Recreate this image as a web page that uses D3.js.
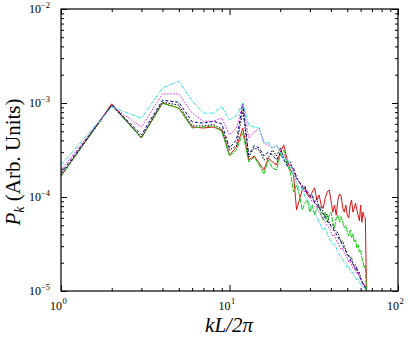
<!DOCTYPE html>
<html>
<head>
<meta charset="utf-8">
<script src="https://cdn.jsdelivr.net/npm/d3@7"></script>
<style>
  html, body { margin: 0; padding: 0; background: #fff; }
  svg { display: block; }
</style>
</head>
<body>
<div id="chart"></div>
<script>
// wavenumber index kL/2pi
const kValues = d3.range(1, 66);

const redP = [1.67e-4, 9.8e-4, 4.24e-4, 1.0e-3, 8.85e-4, 5.55e-4, 5.42e-4, 5.55e-4, 5.15e-4, 2.8e-4,
  3.4e-4, 5.4e-4, 2.47e-4, 2.73e-4, 2.3e-4, 1.94e-4, 2.6e-4, 2.36e-4, 2.19e-4, 3.0e-4,
  3.58e-4, 2.47e-4, 1.94e-4, 1.72e-4, 7.3e-5, 9.3e-5, 1.19e-4, 1.25e-4, 1.05e-4, 9.8e-5,
  1.13e-4, 1.25e-4, 9.3e-5, 1.05e-4, 8.2e-5, 7.6e-5, 9.8e-5, 1.13e-4, 1.19e-4, 9.3e-5,
  6.9e-5, 8.2e-5, 6.4e-5, 9.3e-5, 1.08e-4, 1.02e-4, 7.6e-5, 6.9e-5, 8.2e-5, 6.4e-5,
  6.0e-5, 8.2e-5, 9.3e-5, 6.9e-5, 7.6e-5, 8.6e-5, 7.3e-5, 6.4e-5, 5.6e-5, 8.2e-5,
  5.4e-5, 6.9e-5, 6.2e-5, 6.0e-5, 1.0e-5];

const greenP = [1.67e-4, 9.5e-4, 4.24e-4, 9.9e-4, 8.85e-4, 5.42e-4, 5.55e-4, 5.7e-4, 5.0e-4, 2.73e-4,
  3.16e-4, 4.8e-4, 2.36e-4, 2.66e-4, 2.19e-4, 1.76e-4, 2.47e-4, 2.03e-4, 1.94e-4, 2.8e-4,
  3.16e-4, 2.19e-4, 1.84e-4, 1.13e-4, 1.34e-4, 1.05e-4, 7.3e-5, 8.6e-5, 9.3e-5, 6.9e-5,
  8.2e-5, 6.4e-5, 7.6e-5, 8.2e-5, 6.4e-5, 5.7e-5, 6.9e-5, 5.4e-5, 6.4e-5, 6.9e-5,
  5.4e-5, 4.7e-5, 6.0e-5, 6.4e-5, 5.4e-5, 6.2e-5, 5.4e-5, 4.7e-5, 5.0e-5, 4.24e-5,
  3.85e-5, 4.45e-5, 3.66e-5, 4.05e-5, 3.32e-5, 3.5e-5, 2.87e-5, 3.1e-5, 2.6e-5, 2.73e-5,
  2.25e-5, 2.03e-5, 1.76e-5, 1.89e-5, 1.0e-5];

const blackP = [1.7e-4, 9.5e-4, 4.35e-4, 1.02e-3, 9.5e-4, 5.7e-4, 5.7e-4, 5.9e-4, 5.3e-4, 3.16e-4,
  3.5e-4, 8.4e-4, 2.66e-4, 3.32e-4, 3.16e-4, 2.47e-4, 2.6e-4, 3.16e-4, 2.73e-4, 3.32e-4,
  2.6e-4, 2.25e-4, 2.36e-4, 1.84e-4, 1.59e-4, 1.41e-4, 1.34e-4, 1.19e-4, 1.10e-4, 1.05e-4,
  9.8e-5, 8.85e-5, 9.6e-5, 7.6e-5, 8.0e-5, 6.8e-5, 6.2e-5, 6.6e-5, 5.4e-5, 5.0e-5,
  5.1e-5, 4.45e-5, 4.24e-5, 4.2e-5, 3.66e-5, 3.32e-5, 3.4e-5, 3.0e-5, 2.73e-5, 2.4e-5,
  2.41e-5, 2.25e-5, 2.3e-5, 1.98e-5, 1.84e-5, 1.9e-5, 1.67e-5, 1.55e-5, 1.6e-5, 1.38e-5,
  1.28e-5, 1.22e-5, 1.16e-5, 1.10e-5, 1.0e-5];

const blueP = [1.8e-4, 9.5e-4, 4.6e-4, 1.07e-3, 1.02e-3, 6.3e-4, 6.1e-4, 6.4e-4, 6.0e-4, 3.32e-4,
  4.05e-4, 9.8e-4, 2.8e-4, 3.5e-4, 3.32e-4, 2.73e-4, 3.0e-4, 2.8e-4, 2.47e-4, 2.94e-4,
  2.47e-4, 2.14e-4, 2.19e-4, 2.03e-4, 1.59e-4, 1.45e-4, 1.25e-4, 1.31e-4, 1.10e-4, 1.02e-4,
  1.05e-4, 8.6e-5, 8.2e-5, 8.0e-5, 6.9e-5, 6.6e-5, 6.0e-5, 5.6e-5, 5.15e-5, 4.9e-5,
  4.7e-5, 4.24e-5, 4.05e-5, 3.75e-5, 3.5e-5, 3.32e-5, 3.0e-5, 2.87e-5, 2.66e-5, 2.47e-5,
  2.35e-5, 2.19e-5, 2.03e-5, 1.94e-5, 1.84e-5, 1.67e-5, 1.76e-5, 1.52e-5, 1.45e-5, 1.34e-5,
  1.28e-5, 1.19e-5, 1.13e-5, 1.08e-5, 1.0e-5];

const magentaP = [1.94e-4, 9.3e-4, 5.55e-4, 1.25e-3, 1.25e-3, 7.83e-4, 6.4e-4, 6.4e-4, 6.9e-4, 4.6e-4,
  5.4e-4, 1.0e-3, 4.24e-4, 4.9e-4, 5.4e-4, 3.75e-4, 3.58e-4, 3.32e-4, 3.5e-4, 3.16e-4,
  2.8e-4, 2.47e-4, 2.19e-4, 1.94e-4, 1.67e-4, 1.41e-4, 1.28e-4, 1.13e-4, 1.19e-4, 9.8e-5,
  8.85e-5, 9.3e-5, 7.6e-5, 6.9e-5, 6.4e-5, 5.84e-5, 5.4e-5, 4.9e-5, 4.7e-5, 4.24e-5,
  3.85e-5, 3.95e-5, 3.5e-5, 3.24e-5, 3.0e-5, 2.73e-5, 2.87e-5, 2.54e-5, 2.35e-5, 2.25e-5,
  2.03e-5, 2.14e-5, 1.89e-5, 1.76e-5, 1.84e-5, 1.63e-5, 1.52e-5, 1.59e-5, 1.41e-5, 1.31e-5,
  1.25e-5, 1.16e-5, 1.19e-5, 1.08e-5, 1.0e-5];

const cyanP = [2.19e-4, 9.07e-4, 6.9e-4, 1.44e-3, 1.71e-3, 1.05e-3, 7.8e-4, 7.8e-4, 9.1e-4, 6.6e-4,
  7.4e-4, 1.0e-3, 5.8e-4, 5.55e-4, 5.42e-4, 3.75e-4, 3.85e-4, 3.32e-4, 3.58e-4, 3.0e-4,
  2.47e-4, 2.6e-4, 2.03e-4, 1.72e-4, 1.45e-4, 1.19e-4, 1.25e-4, 1.02e-4, 9.3e-5, 8.2e-5,
  7.3e-5, 6.9e-5, 6.2e-5, 5.4e-5, 4.9e-5, 4.45e-5, 4.7e-5, 4.05e-5, 3.66e-5, 3.4e-5,
  3.1e-5, 3.24e-5, 2.87e-5, 2.6e-5, 2.41e-5, 2.3e-5, 2.14e-5, 2.03e-5, 1.94e-5, 1.76e-5,
  1.84e-5, 1.67e-5, 1.55e-5, 1.59e-5, 1.45e-5, 1.38e-5, 1.31e-5, 1.34e-5, 1.25e-5, 1.19e-5,
  1.13e-5, 1.16e-5, 1.08e-5, 1.05e-5, 1.0e-5];

const xMajorTicks = [1, 10, 100];
const xMajorExps = ["0", "1", "2"];
const yMajorTicks = [1e-5, 1e-4, 1e-3, 1e-2];
const yMajorExps = ["\u22125", "\u22124", "\u22123", "\u22122"];
const minorMults = [2, 3, 4, 5, 6, 7, 8, 9];

const series = [
  { name: "red", values: redP, color: "#dd1111", dash: null },
  { name: "green", values: greenP, color: "#11cc11", dash: "5,1" },
  { name: "black", values: blackP, color: "#000000", dash: "1.5,1.5" },
  { name: "blue", values: blueP, color: "#000099", dash: "3,2" },
  { name: "magenta", values: magentaP, color: "#dd22dd", dash: "1.5,1.5" },
  { name: "cyan", values: cyanP, color: "#33dddd", dash: "4,1,1,1" }
];

const width = 408;
const height = 338;
const margin = { top: 9, right: 10, bottom: 47, left: 61 };
const serif = "'Liberation Serif', 'Times New Roman', serif";

const svg = d3.select("#chart").append("svg")
  .attr("width", width)
  .attr("height", height)
  .style("font-family", serif);

const x = d3.scaleLog()
  .domain([1, 100])
  .range([margin.left, width - margin.right]);

const y = d3.scaleLog()
  .domain([1e-5, 1e-2])
  .range([height - margin.bottom, margin.top]);

const xMinor = [1, 10].flatMap(d => minorMults.map(m => m * d));
const yMinor = [1e-5, 1e-4, 1e-3].flatMap(d => minorMults.map(m => m * d));

svg.append("clipPath").attr("id", "plot-clip")
  .append("rect")
  .attr("x", margin.left).attr("y", margin.top)
  .attr("width", width - margin.left - margin.right)
  .attr("height", height - margin.top - margin.bottom);

// data lines
const line = d3.line()
  .x((d, i) => x(kValues[i]))
  .y(d => y(d));

const linesG = svg.append("g").attr("clip-path", "url(#plot-clip)");
series.forEach(s => {
  linesG.append("path")
    .datum(s.values)
    .attr("fill", "none")
    .attr("stroke", s.color)
    .attr("stroke-width", 1)
    .attr("stroke-dasharray", s.dash)
    .attr("d", line);
});

// inward ticks on all four sides
function addTicks(axis, transform) {
  const g = svg.append("g").attr("transform", transform).call(axis);
  g.select(".domain").remove();
  g.selectAll(".tick line").attr("stroke", "#000").attr("stroke-width", 1);
  g.selectAll(".tick text").remove();
}
const bottomY = height - margin.bottom;
const rightX = width - margin.right;
addTicks(d3.axisBottom(x).tickValues(xMajorTicks).tickSize(-6), `translate(0,${bottomY})`);
addTicks(d3.axisBottom(x).tickValues(xMinor).tickSize(-3), `translate(0,${bottomY})`);
addTicks(d3.axisTop(x).tickValues(xMajorTicks).tickSize(-6), `translate(0,${margin.top})`);
addTicks(d3.axisTop(x).tickValues(xMinor).tickSize(-3), `translate(0,${margin.top})`);
addTicks(d3.axisLeft(y).tickValues(yMajorTicks).tickSize(-6), `translate(${margin.left},0)`);
addTicks(d3.axisLeft(y).tickValues(yMinor).tickSize(-3), `translate(${margin.left},0)`);
addTicks(d3.axisRight(y).tickValues(yMajorTicks).tickSize(-6), `translate(${rightX},0)`);
addTicks(d3.axisRight(y).tickValues(yMinor).tickSize(-3), `translate(${rightX},0)`);

// frame
svg.append("rect")
  .attr("x", margin.left).attr("y", margin.top)
  .attr("width", rightX - margin.left)
  .attr("height", bottomY - margin.top)
  .attr("fill", "none")
  .attr("stroke", "#000")
  .attr("stroke-width", 1.2);

// tick labels with superscripts
yMajorTicks.forEach((v, i) => {
  const t = svg.append("text")
    .attr("x", margin.left - 11)
    .attr("y", y(v) + 4)
    .attr("text-anchor", "end")
    .attr("fill", "#000")
    .style("font-size", "12px");
  t.append("tspan").text("10");
  t.append("tspan").attr("dy", -5).style("font-size", "8.5px").text(yMajorExps[i]);
});

xMajorTicks.forEach((v, i) => {
  const t = svg.append("text")
    .attr("x", x(v) - 11)
    .attr("y", 310)
    .attr("fill", "#000")
    .style("font-size", "12px");
  t.append("tspan").text("10");
  t.append("tspan").attr("dy", -6).attr("dx", 0.5).style("font-size", "8.5px").text(xMajorExps[i]);
});

// axis titles
svg.append("text")
  .attr("x", 229)
  .attr("y", 332)
  .attr("text-anchor", "middle")
  .attr("fill", "#000")
  .style("font-size", "21px")
  .style("font-style", "italic")
  .text("kL/2\u03c0");

const yTitle = svg.append("text")
  .attr("transform", "rotate(-90)")
  .attr("x", -162)
  .attr("y", 20)
  .attr("text-anchor", "middle")
  .attr("fill", "#000")
  .style("font-size", "21px");
yTitle.append("tspan").style("font-style", "italic").text("P");
yTitle.append("tspan").style("font-style", "italic").style("font-size", "14px").attr("dy", 4).text("k");
yTitle.append("tspan").attr("dy", -4).text(" (Arb. Units)");
</script>
</body>
</html>
